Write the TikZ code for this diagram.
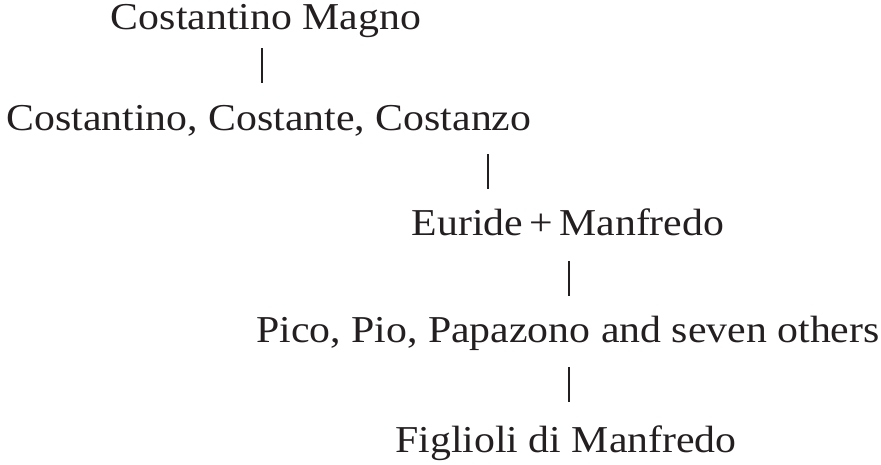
\documentclass[tikz,border=0pt]{standalone}
\usepackage{fontspec}
\setmainfont[FakeStretch=1.1]{Liberation Serif}
\definecolor{ink}{HTML}{231F20}
\begin{document}
\begin{tikzpicture}[x=1pt,y=-1pt,
  txtline/.style={anchor=base,inner sep=0pt,outer sep=0pt,text=ink,font=\fontsize{38}{46}\selectfont},
  vbar/.style={draw=ink,line width=1.8pt}]
\useasboundingbox (0,0) rectangle (881,464);
\node[txtline] (l1) at (266,29) {Costantino Magno};
\node[txtline] (l2) at (269,130) {Costantino, Costante, Costanzo};
\node[txtline] (l3) at (568,235) {Euride\,+\,Manfredo};
\node[txtline] (l4) at (568,342) {Pico, Pio, Papazono and seven others};
\node[txtline] (l5) at (566,452) {Figlioli di Manfredo};
\coordinate (b1t) at (262,48);  \coordinate (b1b) at (262,83);
\coordinate (b2t) at (488,154); \coordinate (b2b) at (488,189);
\coordinate (b3t) at (569,261); \coordinate (b3b) at (569,296);
\coordinate (b4t) at (569,367); \coordinate (b4b) at (569,402);
\draw[vbar] (b1t) -- (b1b);
\draw[vbar] (b2t) -- (b2b);
\draw[vbar] (b3t) -- (b3b);
\draw[vbar] (b4t) -- (b4b);
\end{tikzpicture}
\end{document}
